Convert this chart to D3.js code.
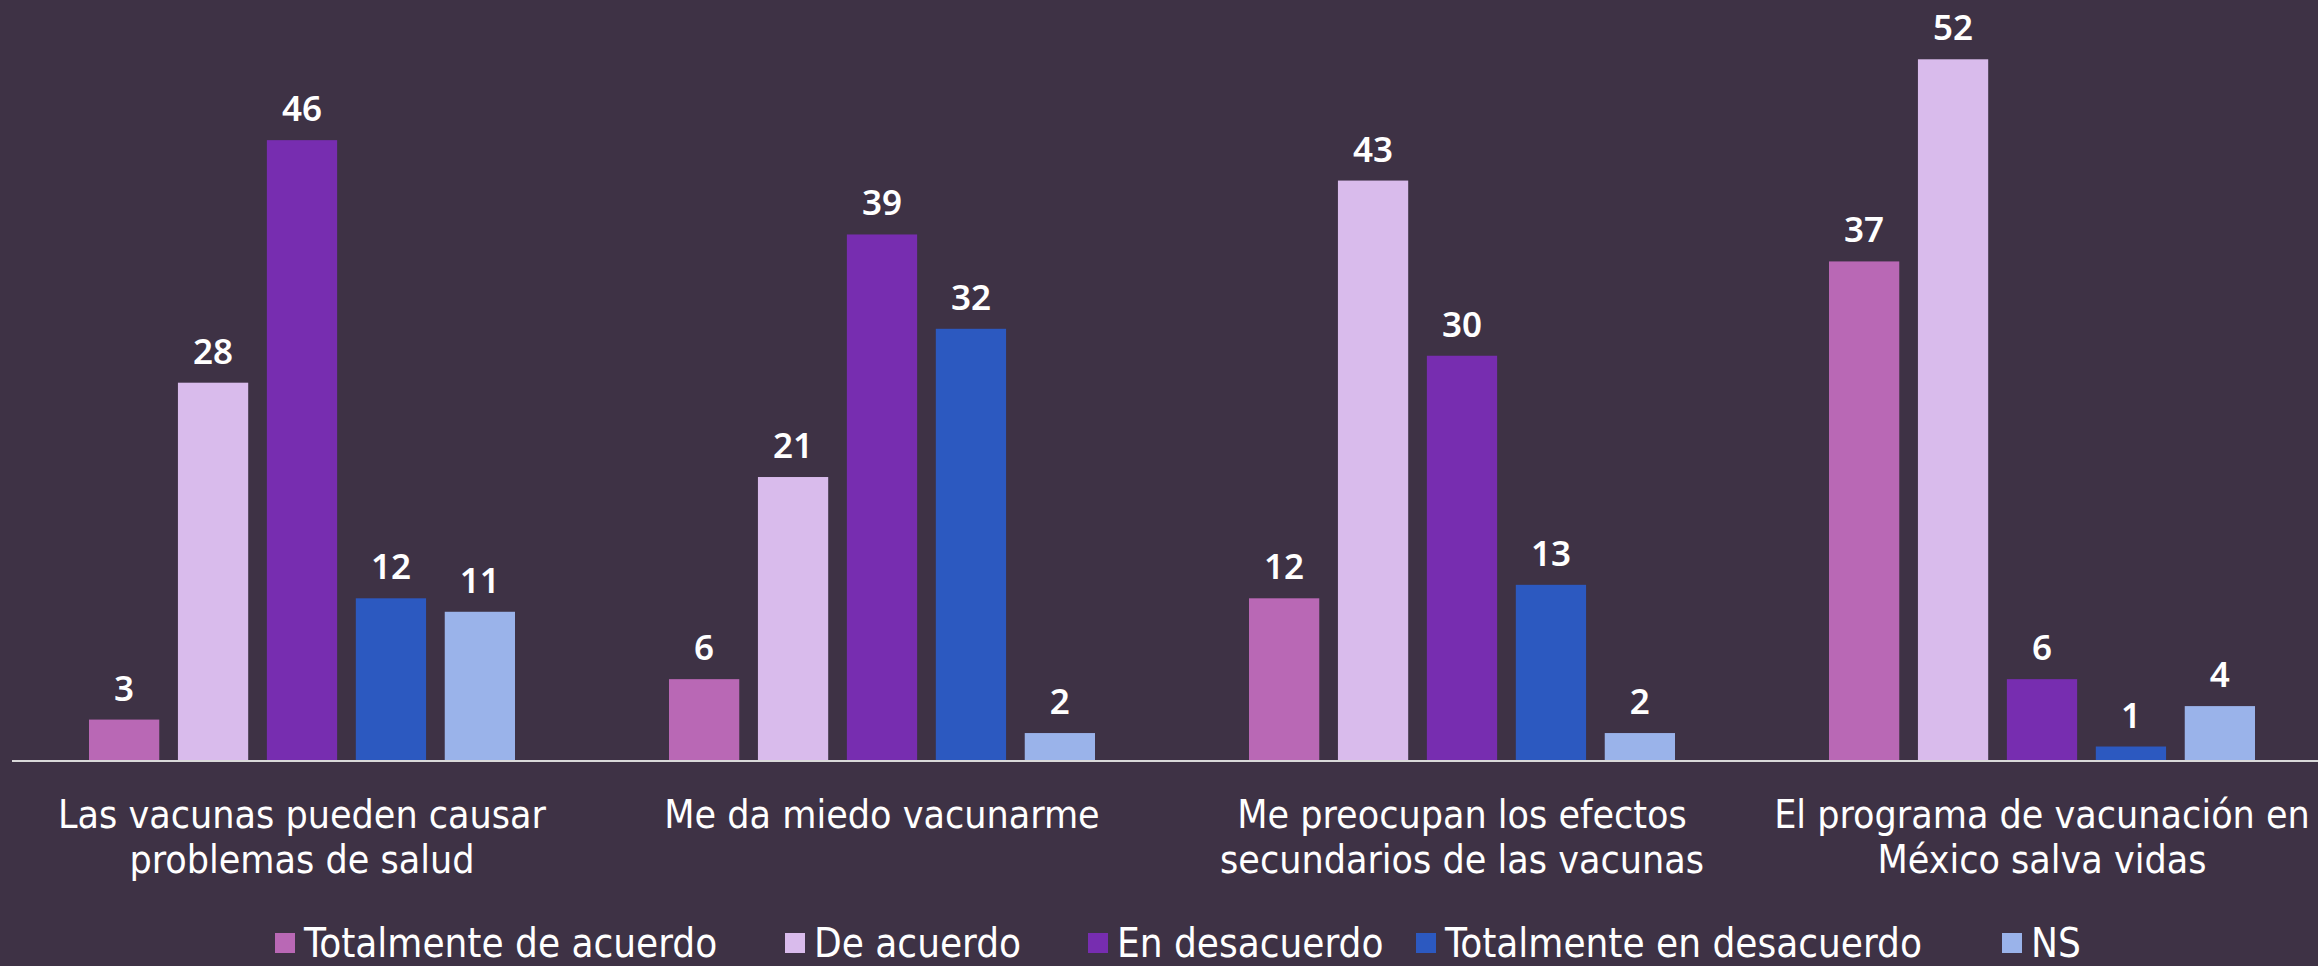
<!DOCTYPE html>
<html>
<head>
<meta charset="utf-8">
<script src="https://cdn.jsdelivr.net/npm/d3@7"></script>
<style>
  html, body { margin: 0; padding: 0; background: #3E3245; }
  svg { display: block; }
</style>
</head>
<body>
<div id="container"></div>
<script>
    // Categories (each one split in two lines as in the original)
    const categories = [
        "Las vacunas pueden causar|problemas de salud",
        "Me da miedo vacunarme",
        "Me preocupan los efectos|secundarios de las vacunas",
        "El programa de vacunación en|México salva vidas"
    ];

    // Series names
    const seriesNames = ["Totalmente de acuerdo", "De acuerdo", "En desacuerdo", "Totalmente en desacuerdo", "NS"];

    // Values per series, one per category
    const totalmenteDeAcuerdo = [3, 6, 12, 37];
    const deAcuerdo = [28, 21, 43, 52];
    const enDesacuerdo = [46, 39, 30, 6];
    const totalmenteEnDesacuerdo = [12, 32, 13, 1];
    const ns = [11, 2, 2, 4];

    const seriesValues = [totalmenteDeAcuerdo, deAcuerdo, enDesacuerdo, totalmenteEnDesacuerdo, ns];

    // Colours
    const colors = ["#B968B5", "#D9BBEC", "#772DB0", "#2C59C0", "#9AB3EA"];

    const width = 2318, height = 966;
    const baseY = 760;

    const svg = d3.select("#container")
                    .append("svg")
                    .attr("width", width)
                    .attr("height", height)
                    .style("background-color", "#3E3245");

    // Scales
    var x0 = d3.scaleBand().domain(d3.range(categories.length)).range([12, 2332]).paddingInner(0).paddingOuter(0);
    var x1 = d3.scaleBand().domain(d3.range(seriesNames.length)).range([77, 580 - 77]).paddingInner(0.21).paddingOuter(0);
    var y = d3.scaleLinear().domain([0, 56.4]).range([baseY, 0]);

    // Build the table of bars
    const table = [];
    seriesValues.forEach(function(vals, s) {
        vals.forEach(function(v, c) {
            table.push({ cat: c, s: s, value: v });
        });
    });

    // Bars
    svg.append("g")
        .selectAll("rect")
        .data(table)
        .enter()
        .append("rect")
        .attr("x", d => x0(d.cat) + x1(d.s))
        .attr("y", d => y(d.value))
        .attr("width", x1.bandwidth())
        .attr("height", d => baseY - y(d.value))
        .attr("fill", d => colors[d.s]);

    // Value labels
    svg.append("g")
        .selectAll("text")
        .data(table)
        .enter()
        .append("text")
        .attr("x", d => x0(d.cat) + x1(d.s) + x1.bandwidth() / 2)
        .attr("y", d => y(d.value) - 19)
        .attr("text-anchor", "middle")
        .attr("fill", "#FFFFFF")
        .attr("font-family", "'Noto Sans', sans-serif")
        .attr("font-weight", 600)
        .attr("font-size", "35px")
        .text(d => d.value);

    // Axis line
    svg.append("line")
        .attr("x1", 12)
        .attr("x2", width)
        .attr("y1", baseY + 1)
        .attr("y2", baseY + 1)
        .attr("stroke", "#D9D9D9")
        .attr("stroke-width", 2);

    // Category labels
    const catG = svg.append("g");
    categories.forEach(function(c, i) {
        const t = catG.append("text")
            .attr("text-anchor", "middle")
            .attr("fill", "#FFFFFF")
            .attr("font-family", "'DejaVu Sans Condensed', sans-serif")
            .attr("font-size", "39px");
        c.split("|").forEach(function(line, j) {
            t.append("tspan")
                .attr("x", x0(i) + x0.bandwidth() / 2)
                .attr("y", 828 + j * 45)
                .text(line);
        });
    });

    // Legend
    const legendX = [275, 785, 1088, 1416, 2002];
    const legend = svg.append("g");
    seriesNames.forEach(function(name, i) {
        legend.append("rect")
            .attr("x", legendX[i])
            .attr("y", 933)
            .attr("width", 20)
            .attr("height", 20)
            .attr("fill", colors[i]);
        legend.append("text")
            .attr("x", legendX[i] + 29)
            .attr("y", 957)
            .attr("fill", "#FFFFFF")
            .attr("font-family", "'DejaVu Sans Condensed', sans-serif")
            .attr("font-size", "40px")
            .text(name);
    });
</script>
</body>
</html>
